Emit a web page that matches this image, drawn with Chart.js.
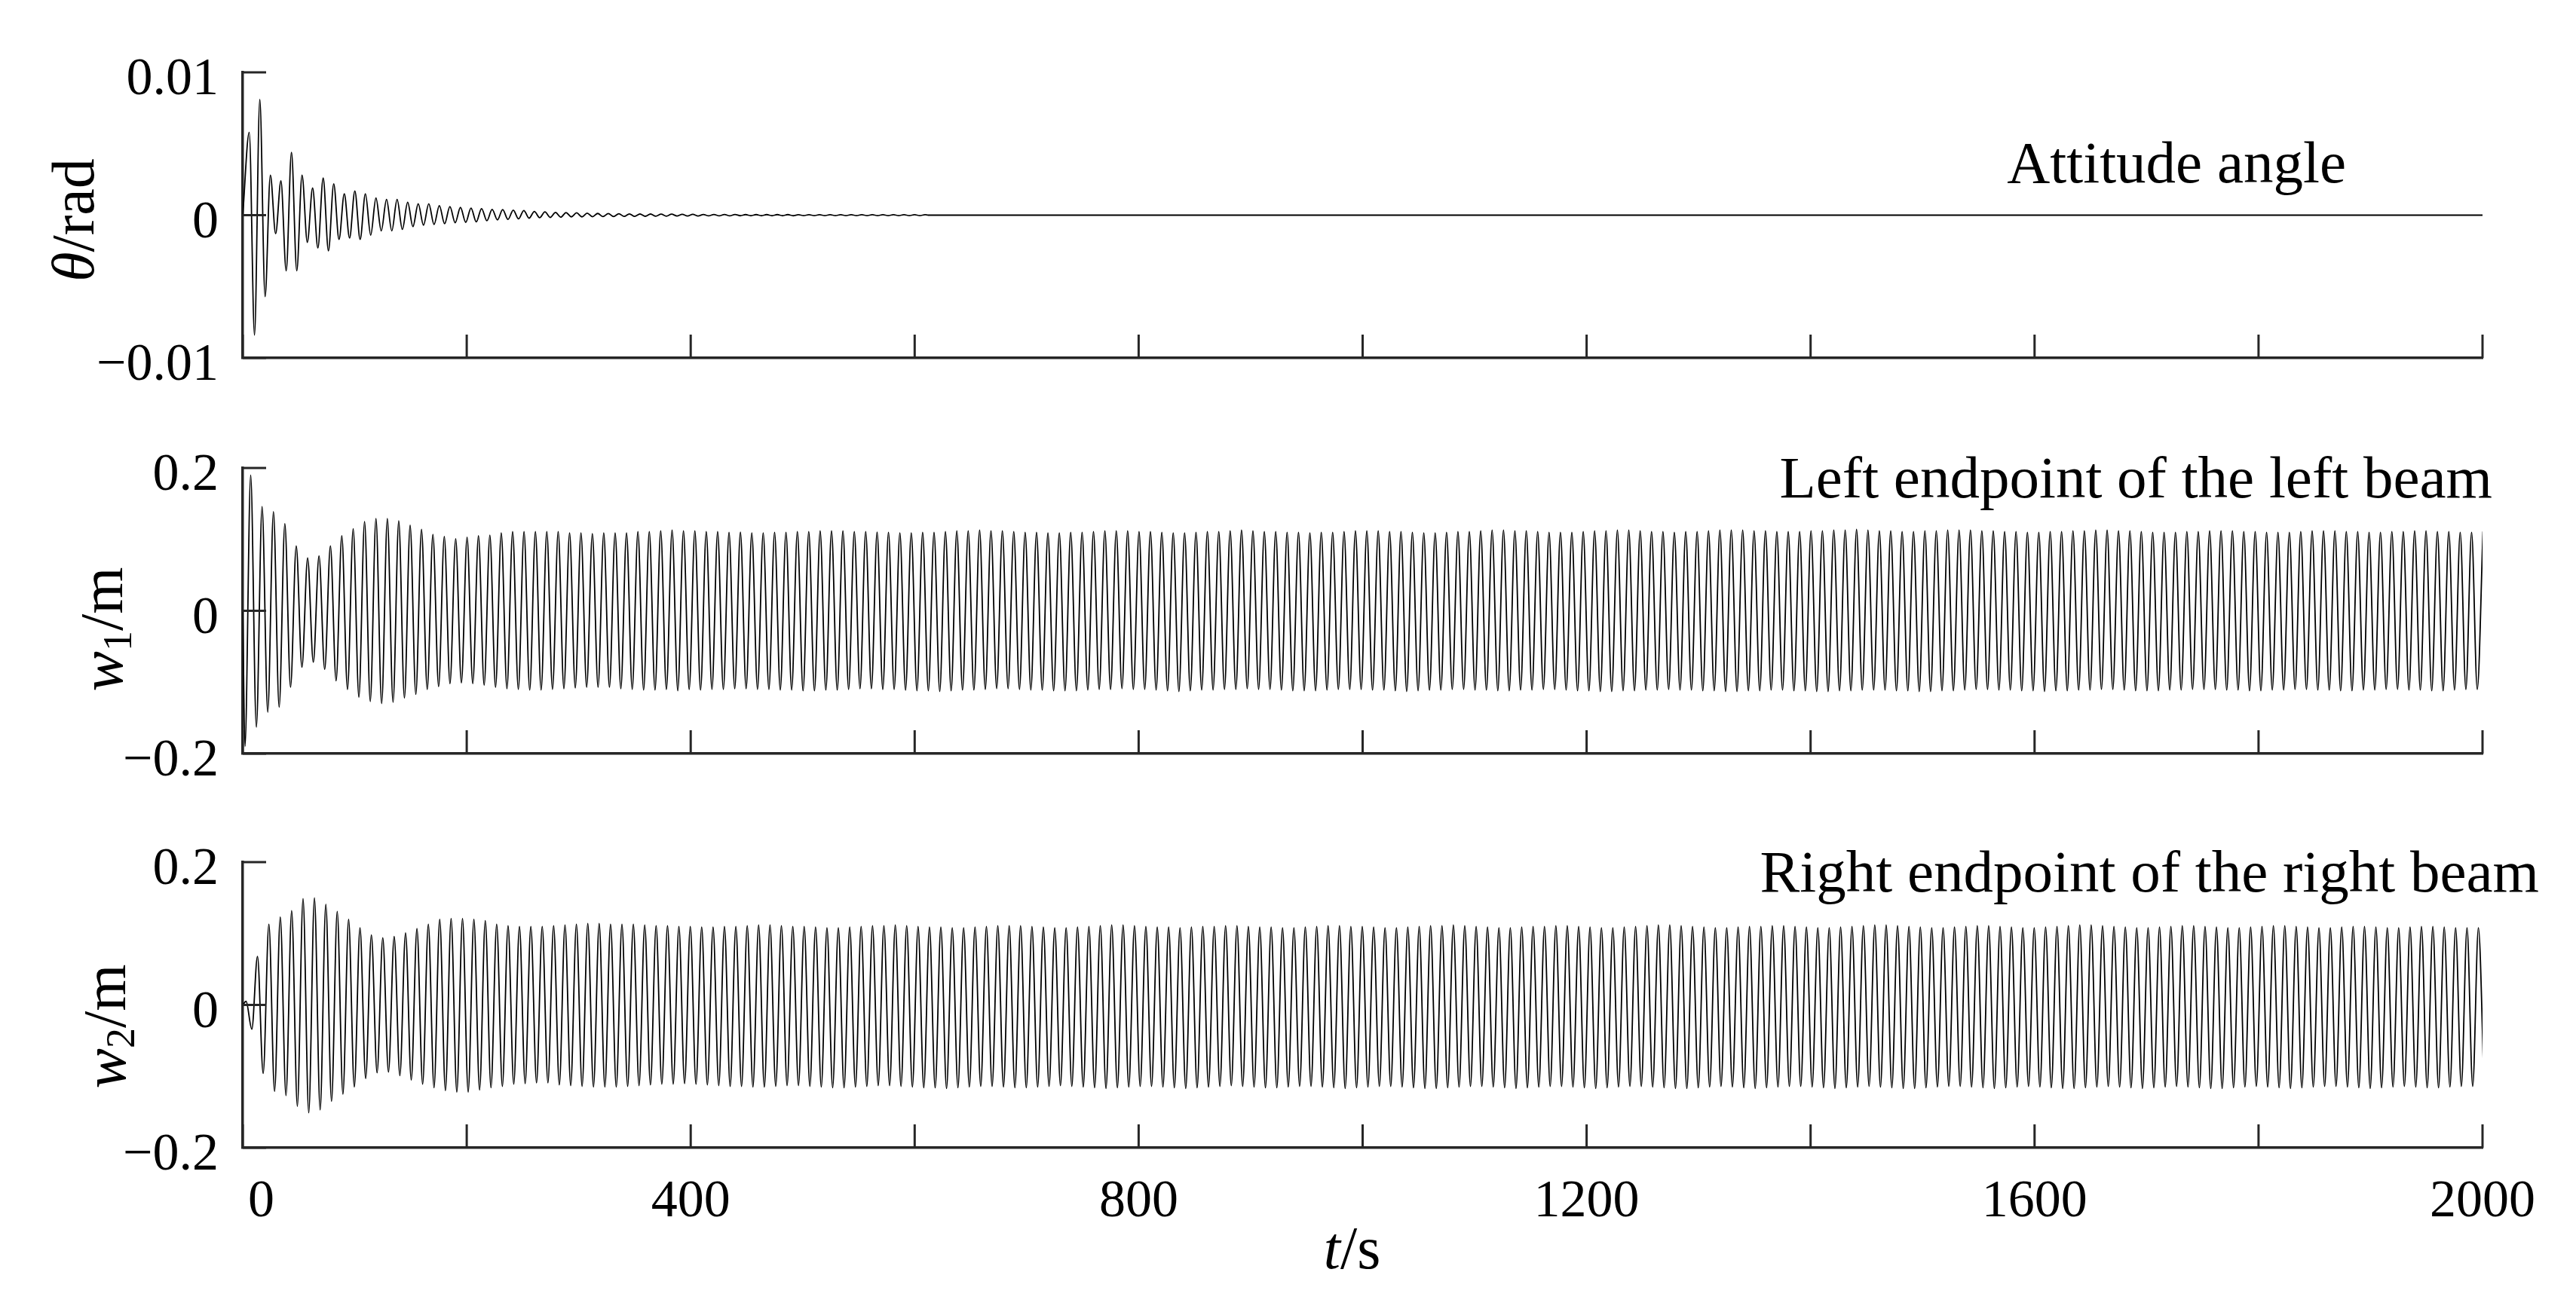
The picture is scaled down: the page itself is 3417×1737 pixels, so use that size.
<!DOCTYPE html>
<html>
<head>
<meta charset="utf-8">
<title>Attitude angle and beam endpoint responses</title>
<script src="https://cdn.jsdelivr.net/npm/chart.js@4.4.1/dist/chart.umd.min.js"></script>
<style>
  html, body { margin: 0; padding: 0; background: #fff; }
  #wrap { position: relative; width: 3417px; height: 1737px; background: #fff; }
  #wrap canvas { position: absolute; left: 0; top: 0; }
</style>
</head>
<body>
<div id="wrap">
  <canvas id="thetaChart" width="3417" height="1737"></canvas>
  <canvas id="w1Chart" width="3417" height="1737"></canvas>
  <canvas id="w2Chart" width="3417" height="1737"></canvas>
</div>
<script>
// time axis (s)
const X_MIN = 0;
const X_MAX = 2000;
const xTickMarks = [0, 200, 400, 600, 800, 1000, 1200, 1400, 1600, 1800, 2000];
const xTickLabels = [0, 400, 800, 1200, 1600, 2000];

// y ticks
const thetaTicks = [-0.01, 0, 0.01];
const thetaTickText = ['\u22120.01', '0', '0.01'];
const wTicks = [-0.2, 0, 0.2];
const wTickText = ['\u22120.2', '0', '0.2'];

// attitude angle: successive extrema (peak, trough, peak ...),
// first one at 5.8 s, then one every half period (period about 9.43 s)
const THETA_FIRST = 5.8;
const THETA_HALF_PERIOD = 4.715;
const THETA_SETTLED_AT = 612;
const thetaExtrema = [
  0.0058, -0.0084, 0.0081, -0.0057, 0.0028, -0.0013, 0.0024, -0.0039, 0.0044, -0.0039,
  0.0028, -0.0019, 0.0019, -0.0023, 0.0026, -0.0025, 0.0022, -0.0017, 0.0015, -0.0016,
  0.0017, -0.0017, 0.0015, -0.0014, 0.0012, -0.0011, 0.0011, -0.0011, 0.0011, -0.0010,
  0.0009, -0.0008, 0.0008, -0.0007, 0.0008, -0.00065, 0.00067, -0.0006, 0.0006, -0.00053,
  0.00054, -0.0005, 0.0005, -0.00047, 0.00046, -0.00039, 0.0004, -0.00033, 0.00039, -0.0003,
  0.00035, -0.00026, 0.00032, -0.00021, 0.00026, -0.00018, 0.00023, -0.00016, 0.00019, -0.00014,
  0.00018, -0.00012, 0.00016, -0.00012, 0.00014, -0.00011, 0.00012, -0.0001, 0.00011, -0.0001,
  0.0001, -0.00009, 0.00009, -0.00009, 0.00008, -0.00008, 0.00008, -0.00007, 0.00007, -0.00007,
  0.00007, -0.00006, 0.00006, -0.00006, 0.00006, -0.00006, 0.00005, -0.00005, 0.00005, -0.00005,
  0.00005, -0.00005, 0.00005, -0.00004, 0.00004, -0.00004, 0.00004, -0.00004, 0.00004, -0.00004,
  0.00004, -0.00004, 0.00004, -0.00004, 0.00003, -0.00003, 0.00003, -0.00003, 0.00003, -0.00003,
  0.00003, -0.00003, 0.00003, -0.00003, 0.00003, -0.00003, 0.00003, -0.00003, 0.00003, -0.00003,
  0.00003, -0.00003, 0.00003, -0.00003, 0.00003, -0.00003, 0.00003, -0.00003, 0.00003
];

// beam endpoints: one trough and one peak per cycle, period about 10.17 s
const W_PERIOD = 10.17;

// left endpoint of the left beam: troughs start at 2.0 s, peaks half a period later
const W1_FIRST = 2.0;
const w1Troughs = [
  -0.190, -0.163, -0.142, -0.135, -0.107, -0.079, -0.072, -0.082, -0.098, -0.110,
  -0.121, -0.127, -0.130, -0.128, -0.122, -0.117, -0.110, -0.106, -0.102, -0.101,
  -0.102, -0.104, -0.107, -0.109, -0.110, -0.111, -0.111, -0.110, -0.109, -0.108,
  -0.107, -0.107, -0.107, -0.109, -0.110, -0.111, -0.111, -0.110, -0.112, -0.110,
  -0.111, -0.110, -0.110, -0.109, -0.109, -0.110, -0.110, -0.111, -0.111, -0.112,
  -0.112, -0.111, -0.111, -0.110, -0.109, -0.109, -0.110, -0.110, -0.111, -0.112,
  -0.112, -0.113, -0.112, -0.111, -0.111, -0.110, -0.109, -0.109, -0.110, -0.111,
  -0.111, -0.112, -0.112, -0.112, -0.111, -0.110, -0.110, -0.109, -0.110, -0.110,
  -0.111, -0.112, -0.113, -0.112, -0.111, -0.111, -0.110, -0.110, -0.109, -0.110,
  -0.110, -0.111, -0.112, -0.112, -0.112, -0.111, -0.110, -0.110, -0.110, -0.111,
  -0.111, -0.112, -0.113, -0.112, -0.111, -0.111, -0.110, -0.110, -0.111, -0.111,
  -0.112, -0.112, -0.111, -0.111, -0.110, -0.110, -0.111, -0.112, -0.112, -0.113,
  -0.113, -0.112, -0.112, -0.111, -0.111, -0.110, -0.111, -0.111, -0.112, -0.112,
  -0.113, -0.113, -0.112, -0.112, -0.111, -0.111, -0.112, -0.112, -0.113, -0.113,
  -0.112, -0.112, -0.111, -0.111, -0.111, -0.112, -0.112, -0.113, -0.113, -0.112,
  -0.112, -0.111, -0.110, -0.110, -0.111, -0.111, -0.112, -0.112, -0.113, -0.112,
  -0.112, -0.111, -0.111, -0.110, -0.110, -0.111, -0.112, -0.112, -0.112, -0.111,
  -0.111, -0.110, -0.110, -0.110, -0.111, -0.111, -0.112, -0.112, -0.111, -0.111,
  -0.110, -0.110, -0.111, -0.111, -0.112, -0.112, -0.111, -0.111, -0.110, -0.110,
  -0.111, -0.111, -0.112, -0.112, -0.111, -0.110, -0.110
];
const w1Peaks = [
  0.190, 0.146, 0.139, 0.122, 0.091, 0.074, 0.077, 0.091, 0.105, 0.115,
  0.125, 0.129, 0.129, 0.126, 0.120, 0.114, 0.107, 0.104, 0.101, 0.103,
  0.105, 0.106, 0.109, 0.111, 0.111, 0.111, 0.111, 0.111, 0.109, 0.109,
  0.108, 0.109, 0.109, 0.109, 0.111, 0.111, 0.112, 0.113, 0.112, 0.112,
  0.111, 0.111, 0.110, 0.110, 0.109, 0.109, 0.110, 0.110, 0.111, 0.111,
  0.112, 0.112, 0.112, 0.111, 0.111, 0.110, 0.110, 0.109, 0.109, 0.110,
  0.110, 0.111, 0.112, 0.112, 0.113, 0.112, 0.112, 0.111, 0.110, 0.110,
  0.109, 0.109, 0.110, 0.110, 0.111, 0.112, 0.112, 0.112, 0.111, 0.111,
  0.110, 0.109, 0.109, 0.110, 0.111, 0.111, 0.112, 0.113, 0.112, 0.111,
  0.111, 0.110, 0.110, 0.109, 0.110, 0.110, 0.111, 0.112, 0.112, 0.112,
  0.111, 0.111, 0.110, 0.109, 0.109, 0.110, 0.111, 0.111, 0.112, 0.113,
  0.113, 0.112, 0.112, 0.111, 0.110, 0.110, 0.110, 0.111, 0.112, 0.112,
  0.113, 0.113, 0.112, 0.111, 0.111, 0.110, 0.111, 0.111, 0.112, 0.113,
  0.113, 0.113, 0.112, 0.112, 0.111, 0.111, 0.111, 0.112, 0.112, 0.113,
  0.113, 0.114, 0.113, 0.112, 0.112, 0.111, 0.111, 0.112, 0.112, 0.113,
  0.113, 0.113, 0.112, 0.112, 0.111, 0.111, 0.110, 0.110, 0.111, 0.111,
  0.112, 0.112, 0.113, 0.113, 0.112, 0.112, 0.111, 0.110, 0.110, 0.110,
  0.111, 0.111, 0.112, 0.112, 0.112, 0.111, 0.111, 0.110, 0.110, 0.110,
  0.111, 0.112, 0.112, 0.112, 0.111, 0.111, 0.110, 0.110, 0.111, 0.111,
  0.112, 0.112, 0.111, 0.111, 0.110, 0.110, 0.111
];

// right endpoint of the right beam: peaks start at 3.0 s, troughs half a period later
const W2_FIRST = 3.0;
const w2Peaks = [
  0.005, 0.068, 0.113, 0.123, 0.132, 0.149, 0.150, 0.141, 0.131, 0.120,
  0.108, 0.098, 0.094, 0.096, 0.101, 0.107, 0.113, 0.120, 0.121, 0.121,
  0.120, 0.118, 0.113, 0.111, 0.110, 0.110, 0.110, 0.111, 0.112, 0.113,
  0.114, 0.114, 0.113, 0.113, 0.113, 0.112, 0.111, 0.111, 0.110, 0.110,
  0.109, 0.109, 0.110, 0.110, 0.111, 0.112, 0.112, 0.111, 0.110, 0.110,
  0.109, 0.108, 0.108, 0.109, 0.110, 0.111, 0.111, 0.112, 0.111, 0.110,
  0.109, 0.109, 0.108, 0.108, 0.109, 0.110, 0.111, 0.111, 0.111, 0.110,
  0.109, 0.108, 0.108, 0.109, 0.110, 0.111, 0.112, 0.112, 0.111, 0.110,
  0.109, 0.109, 0.108, 0.109, 0.110, 0.110, 0.111, 0.111, 0.110, 0.109,
  0.109, 0.108, 0.108, 0.109, 0.110, 0.111, 0.111, 0.110, 0.110, 0.109,
  0.108, 0.108, 0.109, 0.110, 0.111, 0.111, 0.112, 0.111, 0.110, 0.109,
  0.108, 0.108, 0.109, 0.110, 0.110, 0.111, 0.111, 0.110, 0.109, 0.108,
  0.108, 0.109, 0.110, 0.111, 0.112, 0.112, 0.111, 0.110, 0.109, 0.108,
  0.108, 0.109, 0.110, 0.110, 0.111, 0.111, 0.110, 0.109, 0.108, 0.108,
  0.109, 0.110, 0.111, 0.112, 0.112, 0.111, 0.110, 0.109, 0.108, 0.108,
  0.109, 0.110, 0.111, 0.111, 0.110, 0.109, 0.108, 0.108, 0.109, 0.110,
  0.111, 0.112, 0.112, 0.111, 0.110, 0.109, 0.108, 0.108, 0.109, 0.110,
  0.111, 0.111, 0.110, 0.109, 0.108, 0.108, 0.109, 0.110, 0.111, 0.111,
  0.110, 0.109, 0.108, 0.108, 0.109, 0.110, 0.110, 0.109, 0.108, 0.108,
  0.109, 0.110, 0.110, 0.109, 0.108, 0.108, 0.108
];
const w2Troughs = [
  -0.034, -0.096, -0.121, -0.127, -0.142, -0.151, -0.147, -0.135, -0.125, -0.115,
  -0.103, -0.095, -0.094, -0.099, -0.105, -0.111, -0.116, -0.120, -0.122, -0.122,
  -0.119, -0.116, -0.114, -0.111, -0.110, -0.109, -0.109, -0.112, -0.113, -0.114,
  -0.115, -0.115, -0.115, -0.114, -0.113, -0.112, -0.111, -0.111, -0.110, -0.111,
  -0.112, -0.113, -0.114, -0.114, -0.115, -0.115, -0.114, -0.113, -0.113, -0.114,
  -0.115, -0.116, -0.116, -0.115, -0.114, -0.113, -0.113, -0.114, -0.115, -0.116,
  -0.116, -0.117, -0.116, -0.115, -0.114, -0.114, -0.115, -0.116, -0.116, -0.115,
  -0.114, -0.113, -0.114, -0.115, -0.116, -0.117, -0.116, -0.115, -0.114, -0.114,
  -0.115, -0.116, -0.117, -0.116, -0.115, -0.114, -0.113, -0.114, -0.115, -0.116,
  -0.116, -0.115, -0.114, -0.114, -0.115, -0.116, -0.117, -0.116, -0.115, -0.114,
  -0.114, -0.115, -0.116, -0.117, -0.117, -0.116, -0.115, -0.114, -0.114, -0.115,
  -0.116, -0.117, -0.116, -0.115, -0.114, -0.114, -0.115, -0.116, -0.117, -0.116,
  -0.115, -0.114, -0.114, -0.115, -0.116, -0.117, -0.117, -0.116, -0.115, -0.114,
  -0.115, -0.116, -0.117, -0.116, -0.115, -0.114, -0.114, -0.115, -0.116, -0.117,
  -0.116, -0.115, -0.114, -0.115, -0.116, -0.117, -0.117, -0.116, -0.115, -0.114,
  -0.114, -0.115, -0.116, -0.117, -0.116, -0.115, -0.114, -0.115, -0.116, -0.117,
  -0.117, -0.116, -0.115, -0.114, -0.115, -0.116, -0.117, -0.116, -0.115, -0.114,
  -0.115, -0.116, -0.117, -0.117, -0.116, -0.115, -0.114, -0.115, -0.116, -0.117,
  -0.116, -0.115, -0.114, -0.114, -0.115, -0.116, -0.117, -0.116, -0.115, -0.114,
  -0.115, -0.116, -0.116, -0.115, -0.114, -0.114, -0.115
];

// look
const SERIF = '"Liberation Serif", "Times New Roman", serif';
const AXIS_COLOR = '#262626';
const AXIS_WIDTH = 3.5;
const TICK_LEN = 31;
const PLOT_LEFT = 322;
const PLOT_RIGHT_PAD = 124;

// series builders
function extremaSeries(first, step, values) {
    const pts = [{ x: X_MIN, y: 0 }];
    values.forEach((v, i) => pts.push({ x: first + i * step, y: v }));
    return pts;
}

function cycleSeries(first, a, b) {
    const pts = [{ x: X_MIN, y: 0 }];
    for (let k = 0; k < a.length; k++) {
        pts.push({ x: first + k * W_PERIOD, y: a[k] });
        if (k < b.length) pts.push({ x: first + (k + 0.5) * W_PERIOD, y: b[k] });
    }
    return pts;
}

const thetaPoints = extremaSeries(THETA_FIRST, THETA_HALF_PERIOD, thetaExtrema);
thetaPoints.push({ x: THETA_SETTLED_AT, y: 0 }, { x: X_MAX, y: 0 });
const w1Points = cycleSeries(W1_FIRST, w1Troughs, w1Peaks);
const w2Points = cycleSeries(W2_FIRST, w2Peaks, w2Troughs);

// text in pieces with their own font (italic symbols, subscripts)
function drawParts(ctx, parts, x, y, align) {
    let total = 0;
    parts.forEach(p => { ctx.font = p.font; p.w = ctx.measureText(p.text).width; total += p.w; });
    let cur = align === 'right' ? x - total : align === 'center' ? x - total / 2 : x;
    ctx.textAlign = 'left';
    ctx.textBaseline = 'alphabetic';
    parts.forEach(p => {
        ctx.font = p.font;
        ctx.fillText(p.text, cur, y + (p.dy || 0));
        cur += p.w;
    });
}

const F_UP = '80px ' + SERIF;
const F_IT = 'italic 80px ' + SERIF;
const F_SUB = '54px ' + SERIF;

// inward tick marks, y title, panel caption
const panelDecor = {
    id: 'panelDecor',
    afterDraw(chart, args, opts) {
        const ctx = chart.ctx;
        const xs = chart.scales.x;
        const ys = chart.scales.y;
        const area = chart.chartArea;
        ctx.save();
        ctx.strokeStyle = AXIS_COLOR;
        ctx.lineWidth = 3;
        xTickMarks.forEach(v => {
            const px = xs.getPixelForValue(v);
            ctx.beginPath();
            ctx.moveTo(px, area.bottom);
            ctx.lineTo(px, area.bottom - TICK_LEN);
            ctx.stroke();
        });
        opts.yTicks.forEach(v => {
            const py = ys.getPixelForValue(v);
            ctx.beginPath();
            ctx.moveTo(area.left, py);
            ctx.lineTo(area.left + TICK_LEN, py);
            ctx.stroke();
        });

        ctx.fillStyle = '#000';
        // y axis title, rotated
        ctx.save();
        ctx.translate(opts.titleX, opts.titleY);
        ctx.rotate(-Math.PI / 2);
        drawParts(ctx, opts.title, 0, 0, 'center');
        ctx.restore();

        // caption
        ctx.font = '79px ' + SERIF;
        ctx.textAlign = 'right';
        ctx.textBaseline = 'alphabetic';
        ctx.fillText(opts.caption, opts.captionRight, opts.captionBase);

        if (opts.xTitle) {
            drawParts(ctx, opts.xTitle, (area.left + area.right) / 2 - 14, opts.xTitleBase, 'center');
        }
        ctx.restore();
    }
};

function makePanel(id, cfg) {
    return new Chart(document.getElementById(id), {
        type: 'line',
        data: {
            datasets: [{
                data: cfg.points,
                borderColor: '#000',
                borderWidth: 1.8,
                pointRadius: 0,
                fill: false,
                cubicInterpolationMode: 'monotone'
            }]
        },
        options: {
            responsive: false,
            animation: false,
            events: [],
            layout: { padding: { top: cfg.top, right: PLOT_RIGHT_PAD, bottom: cfg.bottom, left: 0 } },
            plugins: {
                legend: { display: false },
                tooltip: { enabled: false },
                panelDecor: cfg.decor
            },
            scales: {
                x: {
                    type: 'linear',
                    min: X_MIN,
                    max: X_MAX,
                    grid: { display: false, drawTicks: false },
                    border: { display: true, color: AXIS_COLOR, width: AXIS_WIDTH },
                    afterBuildTicks: s => { s.ticks = xTickLabels.map(v => ({ value: v })); },
                    afterFit: s => { s.height = cfg.xHeight; },
                    ticks: {
                        display: cfg.showX,
                        padding: 31,
                        color: '#000',
                        maxRotation: 0,
                        autoSkip: false,
                        font: { family: SERIF, size: 70 },
                        callback: v => (v === 0 ? '\u2002\u20090' : String(v))
                    }
                },
                y: {
                    type: 'linear',
                    min: cfg.yTicks[0],
                    max: cfg.yTicks[cfg.yTicks.length - 1],
                    grid: { display: false, drawTicks: false },
                    border: { display: true, color: AXIS_COLOR, width: AXIS_WIDTH },
                    afterBuildTicks: s => { s.ticks = cfg.yTicks.map(v => ({ value: v })); },
                    afterFit: s => { s.width = PLOT_LEFT; },
                    ticks: {
                        padding: 32,
                        labelOffset: 11,
                        color: '#000',
                        font: { family: SERIF, size: 70 },
                        callback: (v, i) => cfg.yText[i]
                    }
                }
            }
        },
        plugins: [panelDecor]
    });
}

makePanel('thetaChart', {
    points: thetaPoints,
    yTicks: thetaTicks,
    yText: thetaTickText,
    top: 96, bottom: 1202, xHeight: 60, showX: false,
    decor: {
        yTicks: thetaTicks,
        title: [{ text: '\u03b8', font: F_IT }, { text: '/rad', font: F_UP }],
        titleX: 124, titleY: 292,
        caption: 'Attitude angle', captionRight: 3112, captionBase: 242
    }
});

makePanel('w1Chart', {
    points: w1Points,
    yTicks: wTicks,
    yText: wTickText,
    top: 621, bottom: 677, xHeight: 60, showX: false,
    decor: {
        yTicks: wTicks,
        title: [{ text: 'w', font: F_IT }, { text: '1', font: F_SUB, dy: 12 }, { text: '/m', font: F_UP }],
        titleX: 162, titleY: 835,
        caption: 'Left endpoint of the left beam', captionRight: 3306, captionBase: 660
    }
});

makePanel('w2Chart', {
    points: w2Points,
    yTicks: wTicks,
    yText: wTickText,
    top: 1144, bottom: 0, xHeight: 214, showX: true,
    decor: {
        yTicks: wTicks,
        title: [{ text: 'w', font: F_IT }, { text: '2', font: F_SUB, dy: 12 }, { text: '/m', font: F_UP }],
        titleX: 166, titleY: 1362,
        caption: 'Right endpoint of the right beam', captionRight: 3368, captionBase: 1183,
        xTitle: [{ text: 't', font: F_IT }, { text: '/s', font: F_UP }],
        xTitleBase: 1683
    }
});
</script>
</body>
</html>
